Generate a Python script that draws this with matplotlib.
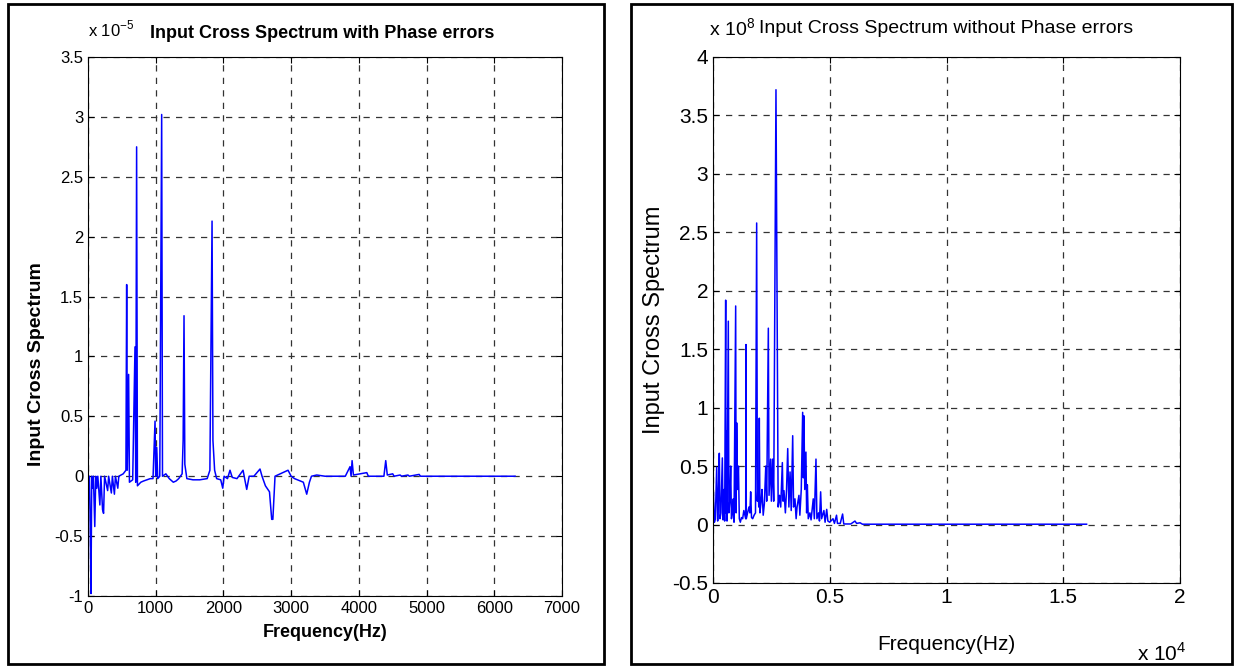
import numpy as np
import matplotlib.pyplot as plt
from matplotlib import font_manager
from matplotlib.patches import Rectangle
from matplotlib.ticker import FuncFormatter

# left panel: cross spectrum with phase errors (y in units of 1e-5)
freq_a = [0, 10, 20, 30, 44, 55, 70, 80, 100, 115, 130, 145, 175, 190, 215, 230, 245, 290, 305,
          345, 360, 390, 405, 440, 455, 520, 560, 571, 580, 600, 612, 660, 694, 705, 718, 730,
          780, 820, 870, 920, 960, 990, 1000, 1015, 1030, 1060, 1088, 1100, 1150, 1200, 1260,
          1300, 1340, 1390, 1405, 1418, 1430, 1460, 1550, 1650, 1760, 1800, 1832, 1845, 1870,
          1900, 1960, 1990, 2010, 2060, 2097, 2130, 2200, 2290, 2320, 2344, 2380, 2450, 2540,
          2570, 2620, 2680, 2713, 2730, 2762, 2800, 2954, 3000, 3050, 3180, 3230, 3270, 3300,
          3378, 3500, 3800, 3870, 3885, 3900, 3920, 4117, 4140, 4370, 4397, 4420, 4500, 4520,
          4610, 4630, 4725, 4745, 4890, 4910, 6307]
spec_a = [0, -0.15, 0, -0.3, -0.98, 0, -0.1, 0, -0.42, 0, -0.1, 0, -0.24, 0, -0.28, -0.31, 0,
          -0.12, 0, -0.14, 0, -0.15, 0, -0.1, 0, 0.02, 0.05, 1.6, 0.05, 0.85, -0.05, -0.03, 1.08,
          -0.05, 2.75, -0.08, -0.05, -0.04, -0.03, -0.02, -0.02, 0.46, 0, 0.24, -0.02, 0.0, 3.02,
          0.0, 0.02, -0.02, -0.05, -0.04, -0.02, 0.02, 0.3, 1.34, 0.1, -0.02, -0.03, -0.03, -0.02,
          0.05, 2.13, 0.3, 0.05, -0.02, -0.03, -0.1, 0, -0.02, 0.05, -0.01, -0.02, 0.05, -0.04,
          -0.11, 0, 0, 0.06, 0.0, -0.08, -0.13, -0.36, -0.36, 0, 0.01, 0.05, 0, -0.02, -0.05,
          -0.15, -0.05, 0, 0.01, 0, 0, 0.08, 0, 0.13, 0.01, 0.03, 0, 0, 0.13, 0.01, 0.02, 0,
          0.01, 0, 0.01, 0, 0.015, 0, 0]

# right panel: cross spectrum without phase errors (y in units of 1e8)
freq_b = [0, 15, 60, 100, 158, 200, 240, 270, 300, 340, 400, 430, 471, 500, 543, 560, 571, 600,
          656, 680, 720, 757, 790, 830, 870, 900, 971, 990, 1014, 1050, 1090, 1127, 1170, 1220,
          1270, 1320, 1400, 1413, 1425, 1480, 1540, 1580, 1613, 1650, 1700, 1760, 1820, 1870,
          1900, 1930, 1960, 1983, 2010, 2060, 2097, 2150, 2200, 2260, 2300, 2370, 2400, 2470,
          2500, 2555, 2600, 2697, 2755, 2790, 2850, 2900, 2970, 3000, 3040, 3100, 3150, 3200,
          3250, 3300, 3350, 3413, 3450, 3510, 3560, 3600, 3681, 3720, 3780, 3840, 3870, 3895,
          3930, 3980, 4010, 4040, 4080, 4150, 4200, 4294, 4340, 4410, 4450, 4520, 4560, 4610,
          4650, 4750, 4800, 4870, 4920, 5000, 5140, 5200, 5290, 5330, 5450, 5550, 5600, 5900,
          6080, 6150, 6300, 6400, 16000]
spec_b = [0.02, 0.28, 0.02, 0.05, 0.49, 0.03, 0.3, 0.61, 0.05, 0.1, 0.57, 0.04, 0.3, 0.03, 1.92,
          0.1, 0.8, 0.03, 1.74, 0.1, 0.2, 0.5, 0.05, 0.1, 0.22, 0.02, 1.87, 0.1, 0.87, 0.3, 0.5,
          0.05, 0.02, 0.06, 0.05, 0.12, 0.05, 1.54, 0.05, 0.1, 0.15, 0.1, 0.28, 0.06, 0.05, 0.08,
          0.1, 2.58, 0.2, 0.37, 0.15, 0.91, 0.1, 0.2, 0.3, 0.08, 0.18, 0.5, 0.2, 1.68, 0.25, 0.56,
          0.2, 0.56, 0.2, 3.72, 1.5, 0.15, 0.25, 0.15, 0.53, 0.2, 0.29, 0.1, 0.3, 0.65, 0.15,
          0.45, 0.12, 0.76, 0.15, 0.22, 0.05, 0.15, 0.25, 0.08, 0.3, 0.96, 0.4, 0.93, 0.3, 0.62,
          0.1, 0.34, 0.05, 0.1, 0.04, 0.22, 0.05, 0.56, 0.05, 0.1, 0.03, 0.28, 0.05, 0.12, 0.02,
          0.13, 0.03, 0.02, 0.05, 0.01, 0.08, 0.01, 0.01, 0.09, 0.005, 0.005, 0.03, 0.01, 0.015,
          0.003, 0.003]

names = {f.name for f in font_manager.fontManager.ttflist}
narrow = 'Liberation Sans Narrow' if 'Liberation Sans Narrow' in names else 'Liberation Sans'
plt.rcParams['font.family'] = [narrow, 'DejaVu Sans']
plt.rcParams['mathtext.fontset'] = 'custom'
plt.rcParams['mathtext.rm'] = narrow

fig = plt.figure(figsize=(12.38, 6.68), dpi=100)
W, H = 1238, 668

# panel frames
for x0, x1 in [(8, 604), (631, 1232)]:
    fig.patches.append(Rectangle((x0 / W, 4 / H), (x1 - x0) / W, 660 / H, fill=False,
                                 lw=2, ec='black', transform=fig.transFigure))

grid_kw = dict(color='#333333', ls=(0, (5, 5)), lw=0.9)
fmt = FuncFormatter(lambda v, p: '%g' % v)

# ---- left
ax1 = fig.add_axes([88 / W, 1 - 596 / H, (562 - 88) / W, (596 - 57) / H])
ax1.plot(freq_a, spec_a, color='#0000ff', lw=1.1)
ax1.set_xlim(0, 7000)
ax1.set_ylim(-1, 3.5)
ax1.set_xticks(np.arange(0, 7001, 1000))
ax1.set_yticks(np.arange(-1, 3.51, 0.5))
ax1.yaxis.set_major_formatter(fmt)
ax1.grid(True, **grid_kw)
ax1.tick_params(direction='in', top=True, right=True, labelsize=12, length=4)
ax1.set_xlabel('Frequency(Hz)', fontsize=13, fontweight='bold', labelpad=6)
ax1.set_ylabel('Input Cross Spectrum', fontsize=14, fontweight='bold')
ax1.yaxis.set_label_coords(-0.09, 0.43)
fig.text(88 / W, 1 - 36 / H, r'x 10$^{-5}$', fontsize=12, va='baseline')
fig.text(322 / W, 1 - 38 / H, 'Input Cross Spectrum with Phase errors', fontsize=13,
         fontweight='bold', ha='center', va='baseline')

# ---- right
ax2 = fig.add_axes([713 / W, 1 - 583 / H, (1180 - 713) / W, (583 - 57) / H])
ax2.plot(freq_b, spec_b, color='#0000ff', lw=1.1)
ax2.set_xlim(0, 20000)
ax2.set_ylim(-0.5, 4)
ax2.set_xticks(np.arange(0, 20001, 5000))
ax2.set_yticks(np.arange(-0.5, 4.01, 0.5))
ax2.xaxis.set_major_formatter(FuncFormatter(lambda v, p: '%g' % (v / 1e4)))
ax2.yaxis.set_major_formatter(fmt)
ax2.grid(True, **grid_kw)
ax2.tick_params(direction='in', top=True, right=True, labelsize=15, length=4)
ax2.set_xlabel('Frequency(Hz)', fontsize=15, labelpad=20)
ax2.set_ylabel('Input Cross Spectrum', fontsize=17)
ax2.yaxis.set_label_coords(-0.103, 0.5)
fig.text(709 / W, 1 - 36 / H, r'x 10$^{8}$', fontsize=14, va='baseline')
fig.text(759 / W, 1 - 33 / H, 'Input Cross Spectrum without Phase errors', fontsize=14,
         ha='left', va='baseline')
fig.text(1137 / W, 1 - 661 / H, r'x 10$^{4}$', fontsize=15, va='baseline')

fig.savefig('out.png', dpi=100)
